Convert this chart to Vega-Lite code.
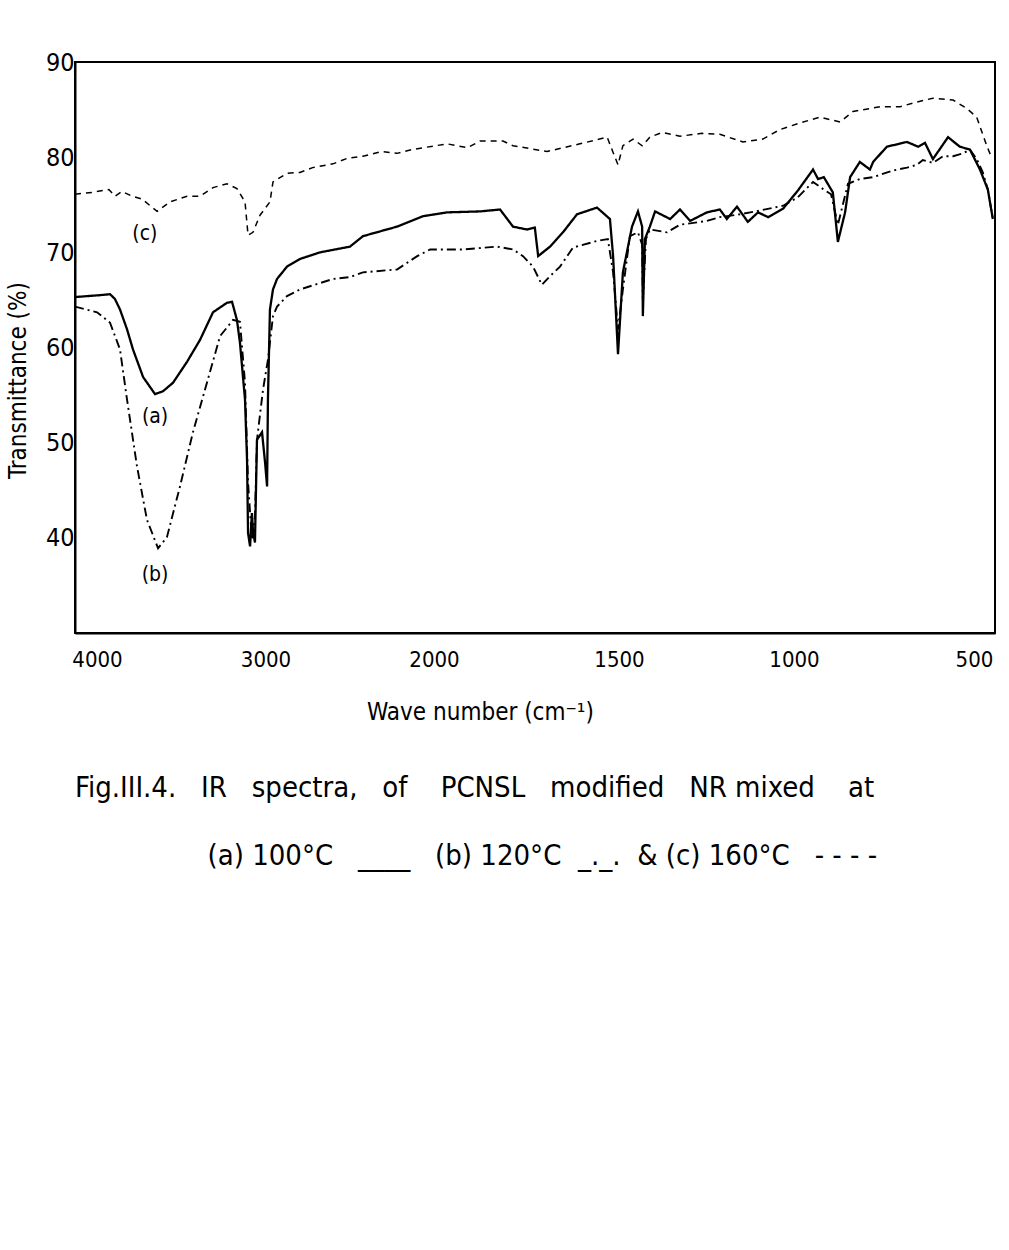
{
  "$schema": "https://vega.github.io/schema/vega-lite/v6.json",
  "autosize": {"type": "none"},
  "width": 920,
  "height": 571,
  "padding": {"left": 75, "top": 62, "right": 14, "bottom": 617},
  "background": "white",
  "config": {
    "font": "DejaVu Sans Condensed, Liberation Sans",
    "view": {"stroke": "black", "strokeWidth": 2},
    "axis": {"domainColor": "black", "domainWidth": 2, "labelColor": "black", "titleColor": "black", "grid": false, "ticks": false}
  },
  "title": {
    "text": ["Fig.III.4.\u00a0\u00a0 IR\u00a0\u00a0 spectra,\u00a0\u00a0 of\u00a0\u00a0\u00a0 PCNSL\u00a0\u00a0 modified\u00a0\u00a0 NR\u00a0mixed\u00a0\u00a0\u00a0 at", "\u200b\u00a0\u00a0\u00a0\u00a0\u00a0\u00a0\u00a0\u00a0\u00a0\u00a0\u00a0\u00a0\u00a0\u00a0\u00a0\u00a0(a) 100°C\u00a0\u00a0 ____\u00a0\u00a0 (b) 120°C\u00a0 _._.\u00a0 & (c) 160°C\u00a0\u00a0 - - - -"],
    "orient": "bottom",
    "anchor": "start",
    "frame": "group",
    "fontSize": 29,
    "fontWeight": "normal",
    "color": "black",
    "lineHeight": 68,
    "offset": 50
  },
  "layer": [
    {
      "data": {"values": [
        {"s":"c","wn":4000,"t":76.1},{"s":"c","wn":3899,"t":76.3},{"s":"c","wn":3799,"t":76.6},{"s":"c","wn":3763,"t":75.9},{"s":"c","wn":3721,"t":76.4},{"s":"c","wn":3662,"t":75.9},{"s":"c","wn":3602,"t":75.6},{"s":"c","wn":3513,"t":74.3},{"s":"c","wn":3436,"t":75.3},{"s":"c","wn":3335,"t":75.9},{"s":"c","wn":3258,"t":75.9},{"s":"c","wn":3181,"t":76.8},{"s":"c","wn":3098,"t":77.2},{"s":"c","wn":3039,"t":76.7},{"s":"c","wn":2991,"t":75.3},{"s":"c","wn":2973,"t":71.8},{"s":"c","wn":2944,"t":72.1},{"s":"c","wn":2902,"t":73.9},{"s":"c","wn":2843,"t":75.3},{"s":"c","wn":2825,"t":77.4},{"s":"c","wn":2742,"t":78.3},{"s":"c","wn":2665,"t":78.4},{"s":"c","wn":2590,"t":78.9},{"s":"c","wn":2469,"t":79.3},{"s":"c","wn":2380,"t":79.9},{"s":"c","wn":2291,"t":80.1},{"s":"c","wn":2180,"t":80.6},{"s":"c","wn":2089,"t":80.4},{"s":"c","wn":2000,"t":80.8},{"s":"c","wn":1905,"t":81.4},{"s":"c","wn":1850,"t":81.0},{"s":"c","wn":1816,"t":81.7},{"s":"c","wn":1754,"t":81.7},{"s":"c","wn":1727,"t":81.2},{"s":"c","wn":1635,"t":80.6},{"s":"c","wn":1546,"t":81.4},{"s":"c","wn":1471,"t":82.1},{"s":"c","wn":1454,"t":80.5},{"s":"c","wn":1440,"t":79.2},{"s":"c","wn":1426,"t":81.2},{"s":"c","wn":1397,"t":81.9},{"s":"c","wn":1371,"t":81.2},{"s":"c","wn":1349,"t":82.1},{"s":"c","wn":1314,"t":82.6},{"s":"c","wn":1263,"t":82.2},{"s":"c","wn":1200,"t":82.5},{"s":"c","wn":1149,"t":82.4},{"s":"c","wn":1083,"t":81.6},{"s":"c","wn":1026,"t":81.9},{"s":"c","wn":978,"t":82.9},{"s":"c","wn":922,"t":83.6},{"s":"c","wn":867,"t":84.2},{"s":"c","wn":811,"t":83.7},{"s":"c","wn":775,"t":84.8},{"s":"c","wn":700,"t":85.3},{"s":"c","wn":644,"t":85.3},{"s":"c","wn":597,"t":85.8},{"s":"c","wn":553,"t":86.2},{"s":"c","wn":497,"t":86.0},{"s":"c","wn":458,"t":85.1},{"s":"c","wn":431,"t":84.2},{"s":"c","wn":403,"t":81.2},{"s":"c","wn":389,"t":79.9},

        {"s":"a","wn":4000,"t":65.3},{"s":"a","wn":3852,"t":65.5},{"s":"a","wn":3792,"t":65.6},{"s":"a","wn":3763,"t":65.1},{"s":"a","wn":3733,"t":64.0},{"s":"a","wn":3691,"t":61.9},{"s":"a","wn":3656,"t":59.8},{"s":"a","wn":3596,"t":56.9},{"s":"a","wn":3525,"t":55.1},{"s":"a","wn":3478,"t":55.4},{"s":"a","wn":3418,"t":56.3},{"s":"a","wn":3335,"t":58.5},{"s":"a","wn":3258,"t":60.8},{"s":"a","wn":3181,"t":63.7},{"s":"a","wn":3098,"t":64.7},{"s":"a","wn":3068,"t":64.8},{"s":"a","wn":3039,"t":62.9},{"s":"a","wn":3021,"t":60.5},{"s":"a","wn":2991,"t":54.5},{"s":"a","wn":2979,"t":48.2},{"s":"a","wn":2973,"t":40.5},{"s":"a","wn":2961,"t":39.1},{"s":"a","wn":2950,"t":42.6},{"s":"a","wn":2944,"t":40.8},{"s":"a","wn":2932,"t":39.5},{"s":"a","wn":2920,"t":50.3},{"s":"a","wn":2890,"t":51.1},{"s":"a","wn":2872,"t":47.9},{"s":"a","wn":2860,"t":45.4},{"s":"a","wn":2855,"t":54.5},{"s":"a","wn":2843,"t":64.0},{"s":"a","wn":2825,"t":66.1},{"s":"a","wn":2801,"t":67.2},{"s":"a","wn":2742,"t":68.5},{"s":"a","wn":2665,"t":69.3},{"s":"a","wn":2546,"t":70.0},{"s":"a","wn":2368,"t":70.6},{"s":"a","wn":2291,"t":71.7},{"s":"a","wn":2089,"t":72.7},{"s":"a","wn":1970,"t":73.8},{"s":"a","wn":1905,"t":74.2},{"s":"a","wn":1816,"t":74.3},{"s":"a","wn":1762,"t":74.5},{"s":"a","wn":1727,"t":72.7},{"s":"a","wn":1689,"t":72.4},{"s":"a","wn":1668,"t":72.6},{"s":"a","wn":1659,"t":69.6},{"s":"a","wn":1627,"t":70.6},{"s":"a","wn":1592,"t":72.1},{"s":"a","wn":1554,"t":74.0},{"s":"a","wn":1500,"t":74.7},{"s":"a","wn":1463,"t":73.5},{"s":"a","wn":1454,"t":69.6},{"s":"a","wn":1440,"t":59.3},{"s":"a","wn":1426,"t":67.9},{"s":"a","wn":1400,"t":72.7},{"s":"a","wn":1383,"t":74.3},{"s":"a","wn":1371,"t":72.7},{"s":"a","wn":1369,"t":63.3},{"s":"a","wn":1363,"t":71.4},{"s":"a","wn":1349,"t":72.7},{"s":"a","wn":1334,"t":74.3},{"s":"a","wn":1291,"t":73.5},{"s":"a","wn":1263,"t":74.5},{"s":"a","wn":1234,"t":73.3},{"s":"a","wn":1186,"t":74.2},{"s":"a","wn":1149,"t":74.5},{"s":"a","wn":1129,"t":73.5},{"s":"a","wn":1100,"t":74.8},{"s":"a","wn":1069,"t":73.2},{"s":"a","wn":1040,"t":74.2},{"s":"a","wn":1011,"t":73.7},{"s":"a","wn":969,"t":74.6},{"s":"a","wn":928,"t":76.5},{"s":"a","wn":886,"t":78.7},{"s":"a","wn":872,"t":77.7},{"s":"a","wn":856,"t":77.9},{"s":"a","wn":831,"t":76.3},{"s":"a","wn":817,"t":71.1},{"s":"a","wn":797,"t":74.2},{"s":"a","wn":783,"t":77.9},{"s":"a","wn":756,"t":79.5},{"s":"a","wn":728,"t":78.7},{"s":"a","wn":719,"t":79.5},{"s":"a","wn":681,"t":81.1},{"s":"a","wn":625,"t":81.6},{"s":"a","wn":594,"t":81.1},{"s":"a","wn":575,"t":81.5},{"s":"a","wn":553,"t":79.8},{"s":"a","wn":511,"t":82.1},{"s":"a","wn":478,"t":81.1},{"s":"a","wn":450,"t":80.8},{"s":"a","wn":422,"t":78.7},{"s":"a","wn":400,"t":76.6},{"s":"a","wn":386,"t":73.5},

        {"s":"b","wn":4000,"t":64.3},{"s":"b","wn":3869,"t":63.7},{"s":"b","wn":3792,"t":62.6},{"s":"b","wn":3733,"t":59.8},{"s":"b","wn":3691,"t":54.5},{"s":"b","wn":3632,"t":47.5},{"s":"b","wn":3573,"t":41.9},{"s":"b","wn":3507,"t":38.9},{"s":"b","wn":3454,"t":40.1},{"s":"b","wn":3377,"t":45.4},{"s":"b","wn":3300,"t":51.1},{"s":"b","wn":3217,"t":56.3},{"s":"b","wn":3139,"t":61.2},{"s":"b","wn":3062,"t":62.9},{"s":"b","wn":3021,"t":62.7},{"s":"b","wn":2991,"t":56.3},{"s":"b","wn":2973,"t":45.8},{"s":"b","wn":2950,"t":39.8},{"s":"b","wn":2932,"t":42.2},{"s":"b","wn":2920,"t":50.3},{"s":"b","wn":2884,"t":55.6},{"s":"b","wn":2855,"t":58.7},{"s":"b","wn":2825,"t":63.3},{"s":"b","wn":2801,"t":64.3},{"s":"b","wn":2742,"t":65.4},{"s":"b","wn":2665,"t":66.1},{"s":"b","wn":2469,"t":67.2},{"s":"b","wn":2368,"t":67.4},{"s":"b","wn":2291,"t":67.9},{"s":"b","wn":2089,"t":68.2},{"s":"b","wn":1986,"t":69.6},{"s":"b","wn":1951,"t":70.3},{"s":"b","wn":1862,"t":70.3},{"s":"b","wn":1770,"t":70.6},{"s":"b","wn":1727,"t":70.3},{"s":"b","wn":1700,"t":69.6},{"s":"b","wn":1673,"t":68.5},{"s":"b","wn":1649,"t":66.6},{"s":"b","wn":1627,"t":67.5},{"s":"b","wn":1600,"t":68.5},{"s":"b","wn":1565,"t":70.5},{"s":"b","wn":1500,"t":71.2},{"s":"b","wn":1469,"t":71.4},{"s":"b","wn":1454,"t":67.9},{"s":"b","wn":1440,"t":61.9},{"s":"b","wn":1426,"t":66.1},{"s":"b","wn":1406,"t":71.7},{"s":"b","wn":1383,"t":72.1},{"s":"b","wn":1371,"t":70.8},{"s":"b","wn":1369,"t":65.1},{"s":"b","wn":1360,"t":71.4},{"s":"b","wn":1349,"t":72.4},{"s":"b","wn":1300,"t":72.1},{"s":"b","wn":1263,"t":72.9},{"s":"b","wn":1186,"t":73.3},{"s":"b","wn":1149,"t":73.7},{"s":"b","wn":1091,"t":74.0},{"s":"b","wn":1034,"t":74.4},{"s":"b","wn":969,"t":74.9},{"s":"b","wn":928,"t":75.8},{"s":"b","wn":886,"t":77.4},{"s":"b","wn":864,"t":76.8},{"s":"b","wn":836,"t":76.1},{"s":"b","wn":817,"t":72.9},{"s":"b","wn":789,"t":77.2},{"s":"b","wn":756,"t":77.7},{"s":"b","wn":719,"t":77.9},{"s":"b","wn":664,"t":78.6},{"s":"b","wn":625,"t":78.9},{"s":"b","wn":597,"t":79.2},{"s":"b","wn":581,"t":79.7},{"s":"b","wn":553,"t":79.4},{"s":"b","wn":525,"t":80.1},{"s":"b","wn":497,"t":80.1},{"s":"b","wn":469,"t":80.4},{"s":"b","wn":450,"t":80.8},{"s":"b","wn":431,"t":79.8},{"s":"b","wn":414,"t":78.4},{"s":"b","wn":400,"t":76.6},{"s":"b","wn":386,"t":73.5}
      ]},
      "mark": {"type": "line", "color": "black", "interpolate": "linear", "clip": true},
      "encoding": {
        "x": {
          "field": "wn", "type": "quantitative",
          "scale": {"domain": [4000, 2000, 1500, 1000, 500, 380], "range": [0, 337, 522, 697, 877, 920], "zero": false, "nice": false},
          "axis": {
            "values": [4000, 3000, 2000, 1500, 1000, 500],
            "format": "d",
            "labelOffset": 22, "labelPadding": 16, "labelFontSize": 22, "labelFlush": false,
            "title": "Wave number   (cm⁻¹)", "titleFontSize": 24, "titleFontWeight": "normal",
            "titleX": 405, "titleY": 79, "titleBaseline": "middle", "titleAnchor": null
          }
        },
        "y": {
          "field": "t", "type": "quantitative",
          "scale": {"domain": [30, 90], "zero": false, "nice": false},
          "axis": {
            "values": [40, 50, 60, 70, 80, 90],
            "labelPadding": 1, "labelFontSize": 25,
            "title": "Transmittance (%)", "titleFontSize": 24, "titleFontWeight": "normal",
            "titleX": -57, "titleY": 318, "titleAngle": -90, "titleBaseline": "middle", "titleAlign": "center"
          }
        },
        "strokeDash": {
          "field": "s", "type": "nominal",
          "scale": {"domain": ["a", "b", "c"], "range": [[1, 0], [9, 4, 2, 4], [6, 5]]},
          "legend": null
        },
        "strokeWidth": {
          "field": "s", "type": "nominal",
          "scale": {"domain": ["a", "b", "c"], "range": [2.3, 1.5, 1.6]},
          "legend": null
        }
      }
    },
    {
      "data": {"values": [
        {"label": "(a)", "wn": 3525, "t": 52.7},
        {"label": "(b)", "wn": 3525, "t": 36.1},
        {"label": "(c)", "wn": 3585, "t": 71.9}
      ]},
      "mark": {"type": "text", "fontSize": 21, "color": "black", "align": "center", "baseline": "middle"},
      "encoding": {
        "x": {"field": "wn", "type": "quantitative"},
        "y": {"field": "t", "type": "quantitative"},
        "text": {"field": "label"}
      }
    }
  ]
}
